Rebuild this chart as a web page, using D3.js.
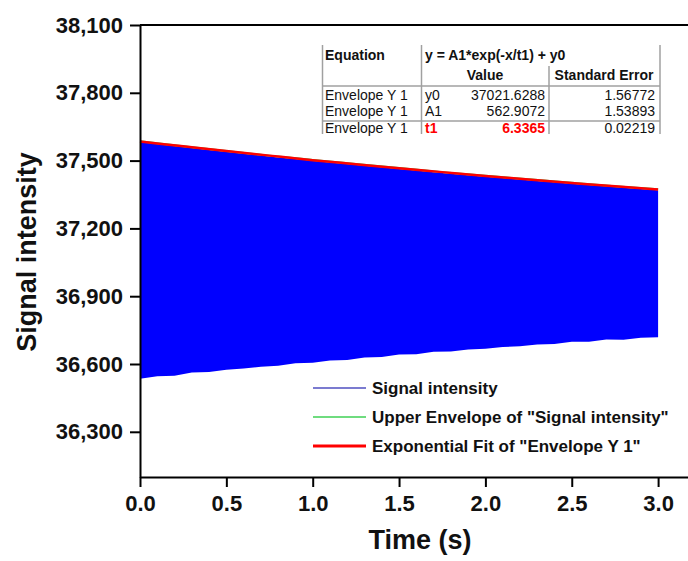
<!DOCTYPE html>
<html>
<head>
<meta charset="utf-8">
<script src="https://cdn.jsdelivr.net/npm/d3@7/dist/d3.min.js"></script>
<style>
  body { margin: 0; background: #fff; }
  svg { display: block; font-family: "Liberation Sans", Arial, sans-serif; }
  .axis path, .axis line { stroke: #000; stroke-width: 2; }
  .axis text { font-size: 22px; font-weight: bold; fill: #111; }
  .tbl text { font-size: 14px; }
</style>
</head>
<body>
<div id="chart"></div>
<script>
// time points (s) for envelopes
const times = [0, 0.25, 0.5, 0.75, 1.0, 1.25, 1.5, 1.75, 2.0, 2.25, 2.5, 2.75, 3.0];
// upper envelope of the signal
const upperEnv = [37586, 37564, 37543, 37522, 37503, 37485, 37467, 37449, 37433, 37417, 37402, 37387, 37373];
// exponential fit of the envelope
const fitVals = [37584, 37563, 37542, 37522, 37502, 37484, 37466, 37449, 37432, 37416, 37401, 37386, 37372];
// lower edge of the signal band, sampled every 0.1 s
const lowTimes = [0, 0.1, 0.2, 0.3, 0.4, 0.5, 0.6, 0.7, 0.8, 0.9, 1.0, 1.1, 1.2, 1.3, 1.4, 1.5,
  1.6, 1.7, 1.8, 1.9, 2.0, 2.1, 2.2, 2.3, 2.4, 2.5, 2.6, 2.7, 2.8, 2.9, 3.0];
const lowerEnv = [36535, 36546, 36548, 36562, 36565, 36575, 36580, 36588, 36592, 36603, 36605,
  36616, 36618, 36629, 36631, 36642, 36643, 36654, 36655, 36664, 36667, 36675, 36678, 36686,
  36689, 36698, 36699, 36708, 36707, 36716, 36718];

const xTicks = [0, 0.5, 1.0, 1.5, 2.0, 2.5, 3.0];
const yTicks = [36300, 36600, 36900, 37200, 37500, 37800, 38100];

const legendLabels = ["Signal intensity", "Upper Envelope of \"Signal intensity\"", "Exponential Fit of \"Envelope Y 1\""];
const legendColors = ["#7b7bd0", "#6fdc7f", "#ff0000"];

// fit result table
const tableRows = [
  ["Envelope Y 1", "y0", "37021.6288", "1.56772"],
  ["Envelope Y 1", "A1", "562.9072", "1.53893"],
  ["Envelope Y 1", "t1", "6.3365", "0.02219"]
];

const W = 688, H = 561;
const margin = {top: 25, left: 140, bottom: 84};

const svg = d3.select("#chart").append("svg").attr("width", W).attr("height", H);

const x = d3.scaleLinear().domain([0, 3.2]).range([margin.left, margin.left + 3.2 * 172.7]);
const y = d3.scaleLinear().domain([36100, 38100]).range([H - margin.bottom, margin.top]);

// signal band: lower edge from lowerEnv, upper edge follows the envelope
const upperAt = d3.scaleLinear().domain(times).range(upperEnv);
const band = lowTimes.map((t, i) => ({t: t, lo: lowerEnv[i], hi: upperAt(t) - 4}));

svg.append("path")
  .datum(band)
  .attr("fill", "#0000ff")
  .attr("d", d3.area().x(d => x(d.t)).y0(d => y(d.lo)).y1(d => y(d.hi)));

// upper envelope
svg.append("path")
  .datum(times.map((t, i) => [t, upperEnv[i]]))
  .attr("fill", "none").attr("stroke", "#3fd14a").attr("stroke-width", 2)
  .attr("d", d3.line().x(d => x(d[0])).y(d => y(d[1])).curve(d3.curveMonotoneX));

// exponential fit
svg.append("path")
  .datum(times.map((t, i) => [t, fitVals[i]]))
  .attr("fill", "none").attr("stroke", "#ff0000").attr("stroke-width", 2.5)
  .attr("d", d3.line().x(d => x(d[0])).y(d => y(d[1])).curve(d3.curveMonotoneX));

// frame top
svg.append("line")
  .attr("x1", margin.left).attr("x2", W + 10)
  .attr("y1", y(38100)).attr("y2", y(38100))
  .attr("stroke", "#000").attr("stroke-width", 2);

// axes
svg.append("g")
  .attr("class", "axis")
  .attr("transform", `translate(0,${y(36100)})`)
  .call(d3.axisBottom(x).tickValues(xTicks).tickFormat(d3.format(".1f")).tickSize(10).tickSizeOuter(0).tickPadding(8));

svg.append("g")
  .attr("class", "axis")
  .attr("transform", `translate(${margin.left},0)`)
  .call(d3.axisLeft(y).tickValues(yTicks).tickFormat(d3.format(",")).tickSize(10).tickSizeOuter(0).tickPadding(7));

// axis titles
svg.append("text")
  .attr("x", 420).attr("y", 549)
  .attr("text-anchor", "middle")
  .style("font-size", "27px").style("font-weight", "bold").style("fill", "#111")
  .text("Time (s)");

svg.append("text")
  .attr("transform", "translate(36,252) rotate(-90)")
  .attr("text-anchor", "middle")
  .style("font-size", "27px").style("font-weight", "bold").style("fill", "#111")
  .text("Signal intensity");

// legend
const leg = svg.append("g").attr("transform", "translate(313,394)");
legendLabels.forEach((lab, i) => {
  const g = leg.append("g").attr("transform", `translate(0,${i * 29})`);
  g.append("line").attr("x1", 0).attr("x2", 53).attr("y1", -6).attr("y2", -6)
    .attr("stroke", legendColors[i]).attr("stroke-width", i === 2 ? 3 : 1.8);
  g.append("text").attr("x", 59).attr("y", 0)
    .style("font-size", "17px").style("font-weight", "bold").style("fill", "#111")
    .text(lab);
});

// fit table
const tbl = svg.append("g").attr("class", "tbl");
const tx = {left: 322.5, c1: 421.5, c2: 549, right: 660};
const gray = "#a0a0a0";
[[tx.left, 45, 134], [tx.c1, 45, 134], [tx.c2, 66, 134], [tx.right, 45, 134]].forEach(v => {
  tbl.append("line").attr("x1", v[0]).attr("x2", v[0]).attr("y1", v[1]).attr("y2", v[2])
    .attr("stroke", gray).attr("stroke-width", 1.5);
});
[86, 121].forEach(v => {
  tbl.append("line").attr("x1", tx.left).attr("x2", tx.right).attr("y1", v).attr("y2", v)
    .attr("stroke", gray).attr("stroke-width", 1.5);
});
const txt = (xx, yy, s, opts = {}) => tbl.append("text")
  .attr("x", xx).attr("y", yy)
  .attr("text-anchor", opts.anchor || "start")
  .style("font-weight", opts.bold ? "bold" : "normal")
  .style("fill", opts.color || "#111")
  .text(s);

txt(325, 60, "Equation", {bold: true});
txt(425, 60, "y = A1*exp(-x/t1) + y0", {bold: true});
txt(485, 80, "Value", {bold: true, anchor: "middle"});
txt(604, 80, "Standard Error", {bold: true, anchor: "middle"});

tableRows.forEach((r, i) => {
  const yy = 100 + i * 16.3;
  const hl = r[1] === "t1";
  const o = hl ? {bold: true, color: "#ff0000"} : {};
  txt(325, yy, r[0]);
  txt(425, yy, r[1], o);
  txt(545, yy, r[2], Object.assign({anchor: "end"}, o));
  txt(655, yy, r[3], {anchor: "end"});
});
</script>
</body>
</html>
